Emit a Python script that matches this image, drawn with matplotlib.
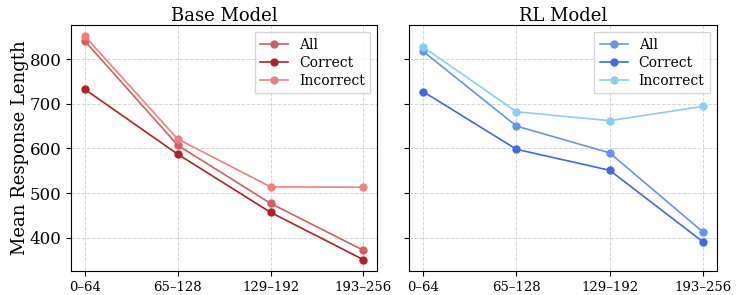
import matplotlib
matplotlib.use('Agg')
import matplotlib.pyplot as plt

plt.rcParams['font.family'] = ['DejaVu Serif']

bins = ['0\u201364', '65\u2013128', '129\u2013192', '193\u2013256']

base_all = [840, 607, 477, 372]
base_correct = [732, 587, 457, 351]
base_incorrect = [851, 621, 514, 513]

rl_all = [817, 650, 590, 413]
rl_correct = [727, 598, 551, 391]
rl_incorrect = [827, 682, 662, 694]

base_colors = ['#d45f5f', '#b22222', '#f08080']
rl_colors = ['#6495ed', '#4169e1', '#87cefa']

fig = plt.figure(figsize=(7.36, 2.95), dpi=100)
ax1 = fig.add_axes([0.0965, 0.082, 0.416, 0.833])
ax2 = fig.add_axes([0.556, 0.082, 0.418, 0.833], sharey=ax1)

x = list(range(len(bins)))
panels = [
    (ax1, 'Base Model', [base_all, base_correct, base_incorrect], base_colors),
    (ax2, 'RL Model', [rl_all, rl_correct, rl_incorrect], rl_colors),
]
for ax, title, series, colors in panels:
    for vals, lab, c in zip(series, ['All', 'Correct', 'Incorrect'], colors):
        ax.plot(x, vals, '-o', color=c, label=lab, lw=1.2, ms=5)
    ax.set_title(title, fontsize=13, pad=3)
    ax.set_xticks(x)
    ax.set_xticklabels(bins, fontsize=9.5)
    ax.grid(True, ls='--', color='#cccccc', lw=0.7, alpha=0.8)
    ax.legend(loc='upper right', fontsize=10, handlelength=2.0,
              borderpad=0.4, labelspacing=0.3, fancybox=False, framealpha=0.8)
    ax.tick_params(axis='y', labelsize=12)

ax1.set_ylabel('Mean Response Length', fontsize=13, labelpad=0)
plt.setp(ax2.get_yticklabels(), visible=False)

fig.savefig('out.png', dpi=100)
